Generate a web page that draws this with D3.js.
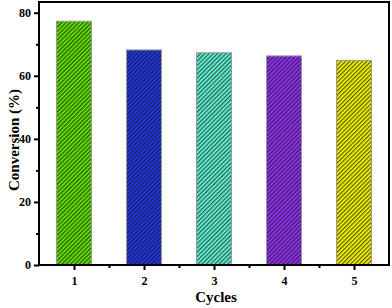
<!DOCTYPE html>
<html>
<head>
<meta charset="utf-8">
<script src="https://cdn.jsdelivr.net/npm/d3@7"></script>
<style>
  body { margin: 0; background: #fff; }
  svg text { font-family: "Liberation Serif", "Times New Roman", serif; font-weight: bold; }
</style>
</head>
<body>
<div id="chart"></div>
<script>
// data
const cycles = [1, 2, 3, 4, 5];
const conversion = [77.3, 68.2, 67.3, 66.3, 64.9];
const barColors = ["#66ee00", "#2238ee", "#66ffdd", "#9933ff", "#ffff00"];
const yTicks = [0, 20, 40, 60, 80];

const width = 392, height = 308;
const margin = {top: 2, right: 3, bottom: 43, left: 39};
const w = width - margin.left - margin.right;
const h = height - margin.top - margin.bottom;

const svg = d3.select("#chart").append("svg")
  .attr("width", width).attr("height", height);

const defs = svg.append("defs");
barColors.forEach((c, i) => {
  const p = defs.append("pattern")
    .attr("id", "hatch" + i)
    .attr("patternUnits", "userSpaceOnUse")
    .attr("width", 3).attr("height", 3)
    .attr("patternTransform", "rotate(45)");
  p.append("rect").attr("width", 3).attr("height", 3).attr("fill", c);
  p.append("line").attr("x1", 0.7).attr("y1", 0).attr("x2", 0.7).attr("y2", 3)
    .attr("stroke", "#111").attr("stroke-width", 1.3).attr("stroke-opacity", 0.7);
});

const g = svg.append("g")
  .attr("transform", "translate(" + margin.left + "," + margin.top + ")");

const x = d3.scaleLinear().domain([0.5, 5.5]).range([0, w]);
const y = d3.scaleLinear().domain([0, 83.4]).range([h, 0]);
const barW = x(1.25) - x(0.75);

g.selectAll(".bar")
  .data(conversion)
  .enter().append("rect")
  .attr("class", "bar")
  .attr("x", (d, i) => x(cycles[i]) - barW / 2)
  .attr("y", d => y(d))
  .attr("width", barW)
  .attr("height", d => h - y(d))
  .attr("fill", (d, i) => "url(#hatch" + i + ")")
  .attr("stroke", "#999")
  .attr("stroke-width", 1);

// frame
g.append("rect").attr("x", 0).attr("y", 0).attr("width", w).attr("height", h)
  .attr("fill", "none").attr("stroke", "#000").attr("stroke-width", 2);

// y axis
g.append("g")
  .call(d3.axisLeft(y).tickValues(yTicks).tickSize(5).tickPadding(3));
g.append("g")
  .call(d3.axisLeft(y).tickValues([10, 30, 50, 70]).tickSize(3).tickFormat(""));

// x axis
g.append("g")
  .attr("transform", "translate(0," + h + ")")
  .call(d3.axisBottom(x).tickValues(cycles).tickFormat(d3.format("d")).tickSize(5).tickPadding(6));
g.append("g")
  .attr("transform", "translate(0," + h + ")")
  .call(d3.axisBottom(x).tickValues([1.5, 2.5, 3.5, 4.5]).tickSize(3).tickFormat(""));

g.selectAll(".domain").remove();
g.selectAll(".tick line").attr("stroke", "#000").attr("stroke-width", 2);
g.selectAll(".tick text").attr("fill", "#000").style("font-size", "12px");

svg.append("text")
  .attr("x", 216).attr("y", 302)
  .attr("text-anchor", "middle")
  .style("font-size", "15px")
  .text("Cycles");

svg.append("text")
  .attr("transform", "translate(19,140) rotate(-90)")
  .attr("text-anchor", "middle")
  .style("font-size", "15px")
  .text("Conversion (%)");
</script>
</body>
</html>
